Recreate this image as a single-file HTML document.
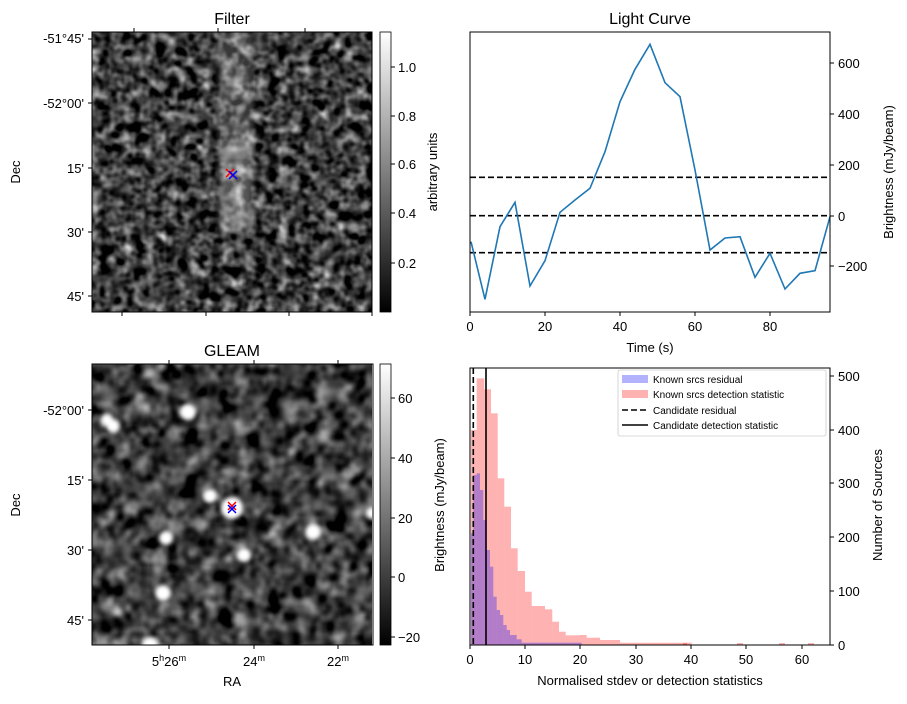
<!DOCTYPE html>
<html><head><meta charset="utf-8"><style>
body{margin:0;background:#fff;}
svg text{font-family:"Liberation Sans","DejaVu Sans",sans-serif;fill:#000;}
</style></head><body>
<svg width="907" height="699" viewBox="0 0 907 699" xmlns="http://www.w3.org/2000/svg">
<defs>
<filter id="n1" x="0" y="0" width="100%" height="100%" color-interpolation-filters="sRGB">
<feTurbulence type="fractalNoise" baseFrequency="0.09" numOctaves="2" seed="3"/>
<feColorMatrix type="matrix" values="0.33 0.33 0.33 0 0 0.33 0.33 0.33 0 0 0.33 0.33 0.33 0 0 0 0 0 0 1"/>
<feComponentTransfer><feFuncR type="linear" slope="2.2" intercept="-0.85"/><feFuncG type="linear" slope="2.2" intercept="-0.85"/><feFuncB type="linear" slope="2.2" intercept="-0.85"/></feComponentTransfer>
</filter>
<filter id="n2" x="0" y="0" width="100%" height="100%" color-interpolation-filters="sRGB">
<feTurbulence type="fractalNoise" baseFrequency="0.06" numOctaves="2" seed="7"/>
<feColorMatrix type="matrix" values="0.33 0.33 0.33 0 0 0.33 0.33 0.33 0 0 0.33 0.33 0.33 0 0 0 0 0 0 1"/>
<feComponentTransfer><feFuncR type="linear" slope="2.0" intercept="-0.75"/><feFuncG type="linear" slope="2.0" intercept="-0.75"/><feFuncB type="linear" slope="2.0" intercept="-0.75"/></feComponentTransfer>
</filter>
<filter id="bl"><feGaussianBlur stdDeviation="2"/></filter>
<linearGradient id="cb" x1="0" y1="1" x2="0" y2="0"><stop offset="0" stop-color="#000"/><stop offset="1" stop-color="#fff"/></linearGradient>
<clipPath id="c1"><rect x="92" y="32" width="280" height="280"/></clipPath>
<clipPath id="c2"><rect x="92" y="364" width="280" height="281"/></clipPath>
</defs>

<!-- Filter image -->
<text x="232" y="24" font-size="16" text-anchor="middle">Filter</text>
<g clip-path="url(#c1)">
<rect x="92" y="32" width="280" height="280" filter="url(#n1)"/>
<rect x="218" y="32" width="36" height="200" fill="#fff" opacity="0.22" filter="url(#bl)"/>
<rect x="222" y="140" width="28" height="90" fill="#fff" opacity="0.15" filter="url(#bl)"/>
</g>
<rect x="92" y="32" width="280" height="280" fill="none" stroke="#000" stroke-width="1"/>
<g stroke="red" stroke-width="1.5"><line x1="226" y1="169" x2="234" y2="177"/><line x1="234" y1="169" x2="226" y2="177"/></g>
<g stroke="blue" stroke-width="1.5"><line x1="229" y1="171" x2="237" y2="179"/><line x1="237" y1="171" x2="229" y2="179"/></g>
<g font-size="13" text-anchor="end">
<text x="84" y="43">-51°45'</text><text x="84" y="108">-52°00'</text><text x="84" y="173">15'</text><text x="84" y="237">30'</text><text x="84" y="301">45'</text>
</g>
<g stroke="#000"><line x1="88" y1="39" x2="92" y2="39"/><line x1="88" y1="103" x2="92" y2="103"/><line x1="88" y1="168" x2="92" y2="168"/><line x1="88" y1="232" x2="92" y2="232"/><line x1="88" y1="296" x2="92" y2="296"/>
<line x1="122" y1="312" x2="122" y2="316"/><line x1="206" y1="312" x2="206" y2="316"/><line x1="289" y1="312" x2="289" y2="316"/><line x1="372" y1="312" x2="372" y2="316"/>
<line x1="134" y1="28" x2="134" y2="32"/><line x1="218" y1="28" x2="218" y2="32"/><line x1="305" y1="28" x2="305" y2="32"/></g>
<text x="20" y="172" font-size="13" text-anchor="middle" transform="rotate(-90 20 172)">Dec</text>
<rect x="380" y="32" width="11" height="280" fill="url(#cb)" stroke="#000" stroke-width="0.8"/>
<g stroke="#000"><line x1="391" y1="67" x2="395" y2="67"/><line x1="391" y1="116" x2="395" y2="116"/><line x1="391" y1="164" x2="395" y2="164"/><line x1="391" y1="213" x2="395" y2="213"/><line x1="391" y1="263" x2="395" y2="263"/></g>
<g font-size="13"><text x="398" y="72">1.0</text><text x="398" y="121">0.8</text><text x="398" y="169">0.6</text><text x="398" y="218">0.4</text><text x="398" y="268">0.2</text></g>
<text x="437" y="172" font-size="13" text-anchor="middle" transform="rotate(-90 437 172)">arbitrary units</text>

<!-- GLEAM image -->
<text x="232" y="356" font-size="16" text-anchor="middle">GLEAM</text>
<g clip-path="url(#c2)">
<rect x="92" y="364" width="281" height="281" filter="url(#n2)"/>
<g fill="#fff" filter="url(#bl)">
<circle cx="188" cy="412" r="8"/><circle cx="107" cy="420" r="6"/><circle cx="113" cy="426" r="7"/>
<circle cx="210" cy="496" r="7"/><circle cx="232" cy="508" r="11"/><circle cx="166" cy="538" r="7"/>
<circle cx="244" cy="555" r="7"/><circle cx="313" cy="532" r="8"/><circle cx="163" cy="593" r="8"/>
<circle cx="150" cy="645" r="8"/><circle cx="372" cy="513" r="6"/>
<circle cx="348" cy="473" r="6" opacity="0.5"/><circle cx="150" cy="372" r="5" opacity="0.5"/><circle cx="118" cy="612" r="4" opacity="0.6"/>
</g>
</g>
<rect x="92" y="364" width="281" height="281" fill="none" stroke="#000" stroke-width="1"/>
<g stroke="red" stroke-width="1.5"><line x1="228" y1="502" x2="236" y2="510"/><line x1="236" y1="502" x2="228" y2="510"/></g>
<g stroke="blue" stroke-width="1.5"><line x1="228" y1="505" x2="236" y2="513"/><line x1="236" y1="505" x2="228" y2="513"/></g>
<g font-size="13" text-anchor="end">
<text x="84" y="415">-52°00'</text><text x="84" y="485">15'</text><text x="84" y="555">30'</text><text x="84" y="625">45'</text>
</g>
<g stroke="#000"><line x1="88" y1="410" x2="92" y2="410"/><line x1="88" y1="480" x2="92" y2="480"/><line x1="88" y1="550" x2="92" y2="550"/><line x1="88" y1="620" x2="92" y2="620"/>
<line x1="169" y1="645" x2="169" y2="649"/><line x1="254" y1="645" x2="254" y2="649"/><line x1="338" y1="645" x2="338" y2="649"/>
<line x1="169" y1="360" x2="169" y2="364"/><line x1="254" y1="360" x2="254" y2="364"/><line x1="338" y1="360" x2="338" y2="364"/></g>
<g font-size="13" text-anchor="middle">
<text x="169" y="666">5<tspan font-size="9" dy="-5">h</tspan><tspan dy="5">26</tspan><tspan font-size="9" dy="-5">m</tspan></text>
<text x="254" y="666">24<tspan font-size="9" dy="-5">m</tspan></text>
<text x="338" y="666">22<tspan font-size="9" dy="-5">m</tspan></text>
<text x="232" y="686">RA</text>
</g>
<text x="20" y="505" font-size="13" text-anchor="middle" transform="rotate(-90 20 505)">Dec</text>
<rect x="380" y="364" width="11" height="281" fill="url(#cb)" stroke="#000" stroke-width="0.8"/>
<g stroke="#000"><line x1="391" y1="398" x2="395" y2="398"/><line x1="391" y1="458" x2="395" y2="458"/><line x1="391" y1="518" x2="395" y2="518"/><line x1="391" y1="577" x2="395" y2="577"/><line x1="391" y1="637" x2="395" y2="637"/></g>
<g font-size="13"><text x="398" y="403">60</text><text x="398" y="463">40</text><text x="398" y="523">20</text><text x="398" y="582">0</text><text x="398" y="642">−20</text></g>
<text x="444" y="505" font-size="13" text-anchor="middle" transform="rotate(-90 444 505)">Brightness (mJy/beam)</text>

<!-- Light curve -->
<text x="650" y="24" font-size="16" text-anchor="middle">Light Curve</text>
<g stroke="#000" stroke-width="1.6" stroke-dasharray="6,3">
<line x1="470" y1="177.3" x2="830" y2="177.3"/><line x1="470" y1="215.7" x2="830" y2="215.7"/><line x1="470" y1="252.7" x2="830" y2="252.7"/>
</g>
<polyline fill="none" stroke="#1f77b4" stroke-width="1.6" points="471,241.7 485,299.3 500,226.7 515,202.3 530,286 545,260.7 560,212.3 575,200 590,188.3 605,151.7 620,101.7 635,69.3 650,44.3 665,82.7 680,96.7 695,170 710,250 725,238 740,236.7 755,277.3 770,253.3 785,289 800,273.3 815,270.7 830,216.7"/>
<rect x="470" y="32" width="360" height="280" fill="none" stroke="#000" stroke-width="1"/>
<g stroke="#000"><line x1="470" y1="312" x2="470" y2="316"/><line x1="545" y1="312" x2="545" y2="316"/><line x1="620" y1="312" x2="620" y2="316"/><line x1="695" y1="312" x2="695" y2="316"/><line x1="770" y1="312" x2="770" y2="316"/>
<line x1="830" y1="63" x2="834" y2="63"/><line x1="830" y1="114" x2="834" y2="114"/><line x1="830" y1="165" x2="834" y2="165"/><line x1="830" y1="216" x2="834" y2="216"/><line x1="830" y1="266" x2="834" y2="266"/></g>
<g font-size="13" text-anchor="middle"><text x="470" y="331">0</text><text x="545" y="331">20</text><text x="620" y="331">40</text><text x="695" y="331">60</text><text x="770" y="331">80</text><text x="650" y="352">Time (s)</text></g>
<g font-size="13"><text x="838" y="68">600</text><text x="838" y="119">400</text><text x="838" y="170">200</text><text x="838" y="221">0</text><text x="838" y="271">−200</text></g>
<text x="893" y="172" font-size="13" text-anchor="middle" transform="rotate(-90 893 172)">Brightness (mJy/beam)</text>

<!-- Histogram -->
<g fill="#ff0000" fill-opacity="0.3">
<rect x="471" y="430" width="5.7" height="215"/><rect x="476.7" y="378.3" width="7.6" height="266.7"/><rect x="484.3" y="389.3" width="6.7" height="255.7"/><rect x="491" y="413.3" width="6.7" height="231.7"/><rect x="497.7" y="478.3" width="6.6" height="166.7"/><rect x="504.3" y="506.7" width="6.7" height="138.3"/><rect x="511" y="548.3" width="6.7" height="96.7"/><rect x="517.7" y="571" width="7.3" height="74"/><rect x="525" y="591.7" width="6.7" height="53.3"/><rect x="531.7" y="606" width="13.3" height="39"/><rect x="545" y="609.3" width="7.3" height="35.7"/><rect x="552.3" y="621.7" width="6.7" height="23.3"/><rect x="559" y="631.7" width="6.7" height="13.3"/><rect x="565.7" y="635.3" width="14.3" height="9.7"/><rect x="580" y="635" width="6.7" height="10"/><rect x="586.7" y="637.7" width="13.3" height="7.3"/><rect x="600" y="640" width="20" height="5"/><rect x="620" y="642.7" width="71.7" height="2.3"/><rect x="683" y="643" width="4" height="2"/><rect x="737" y="643" width="6" height="2"/><rect x="779" y="643" width="6" height="2"/><rect x="808" y="643" width="6" height="2"/>
</g>
<g fill="#0000ff" fill-opacity="0.3">
<rect x="471" y="533.3" width="2.3" height="111.7"/><rect x="473.3" y="475" width="3.4" height="170"/><rect x="476.7" y="473.3" width="3.3" height="171.7"/><rect x="480" y="490" width="3.3" height="155"/><rect x="483.3" y="520" width="3.4" height="125"/><rect x="486.7" y="550" width="3.3" height="95"/><rect x="490" y="566.7" width="3.3" height="78.3"/><rect x="493.3" y="596.7" width="3.4" height="48.3"/><rect x="496.7" y="610" width="3.3" height="35"/><rect x="500" y="615" width="3.3" height="30"/><rect x="503.3" y="625" width="3.4" height="20"/><rect x="506.7" y="630" width="3.3" height="15"/><rect x="510" y="635" width="6.7" height="10"/><rect x="516.7" y="639.3" width="5" height="5.7"/><rect x="521.7" y="642.7" width="60" height="2.3"/>
</g>
<line x1="473.3" y1="368" x2="473.3" y2="645" stroke="#000" stroke-width="1.6" stroke-dasharray="6,3"/>
<line x1="486" y1="368" x2="486" y2="645" stroke="#000" stroke-width="1.6"/>
<rect x="470" y="368" width="360" height="277" fill="none" stroke="#000" stroke-width="1"/>
<rect x="618" y="370" width="208" height="66" fill="#fff" fill-opacity="0.85" stroke="#ccc" stroke-width="0.8" rx="2"/>
<rect x="622" y="375" width="26" height="8" fill="#0000ff" fill-opacity="0.3"/>
<rect x="622" y="390" width="26" height="8" fill="#ff0000" fill-opacity="0.3"/>
<line x1="622" y1="410" x2="648" y2="410" stroke="#000" stroke-width="1.6" stroke-dasharray="6,3"/>
<line x1="622" y1="425" x2="648" y2="425" stroke="#000" stroke-width="1.6"/>
<g font-size="10"><text x="653" y="383">Known srcs residual</text><text x="653" y="398">Known srcs detection statistic</text><text x="653" y="414">Candidate residual</text><text x="653" y="429">Candidate detection statistic</text></g>
<g stroke="#000"><line x1="470" y1="645" x2="470" y2="649"/><line x1="525" y1="645" x2="525" y2="649"/><line x1="580" y1="645" x2="580" y2="649"/><line x1="636" y1="645" x2="636" y2="649"/><line x1="691" y1="645" x2="691" y2="649"/><line x1="746" y1="645" x2="746" y2="649"/><line x1="802" y1="645" x2="802" y2="649"/>
<line x1="830" y1="645" x2="834" y2="645"/><line x1="830" y1="591" x2="834" y2="591"/><line x1="830" y1="537" x2="834" y2="537"/><line x1="830" y1="483" x2="834" y2="483"/><line x1="830" y1="430" x2="834" y2="430"/><line x1="830" y1="376" x2="834" y2="376"/></g>
<g font-size="13" text-anchor="middle"><text x="470" y="664">0</text><text x="525" y="664">10</text><text x="580" y="664">20</text><text x="636" y="664">30</text><text x="691" y="664">40</text><text x="746" y="664">50</text><text x="802" y="664">60</text><text x="650" y="685">Normalised stdev or detection statistics</text></g>
<g font-size="13"><text x="838" y="650">0</text><text x="838" y="596">100</text><text x="838" y="542">200</text><text x="838" y="488">300</text><text x="838" y="435">400</text><text x="838" y="381">500</text></g>
<text x="882" y="505" font-size="13" text-anchor="middle" transform="rotate(-90 882 505)">Number of Sources</text>
</svg>
</body></html>
